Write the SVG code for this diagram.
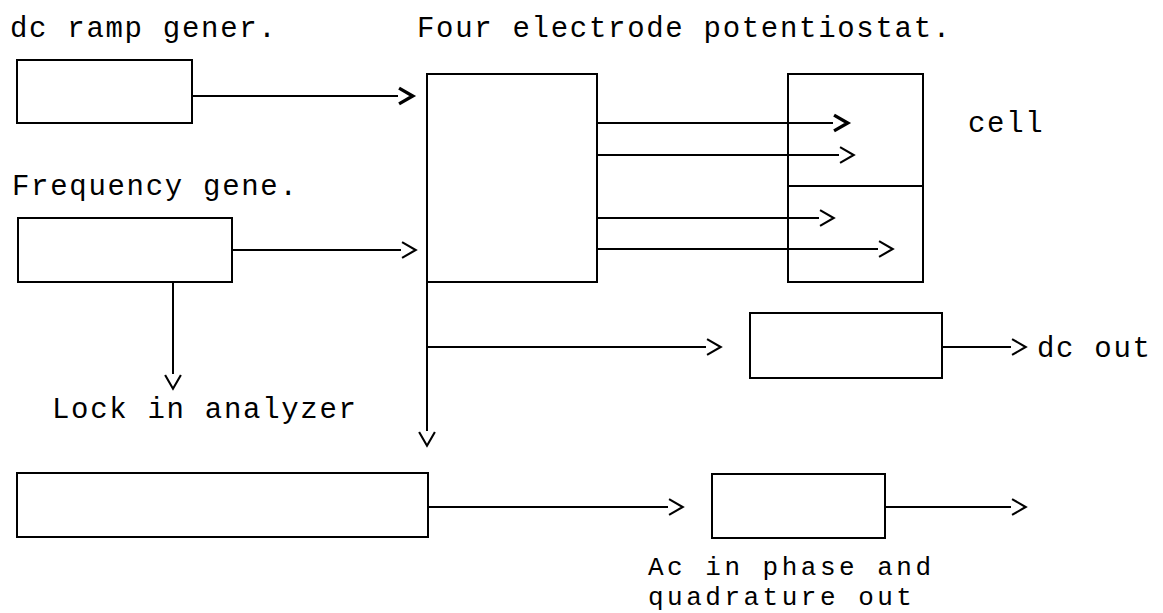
<svg xmlns="http://www.w3.org/2000/svg" width="1163" height="613" viewBox="0 0 1163 613">
<style>
.box{fill:none;stroke:#000;stroke-width:2}
.ln{fill:none;stroke:#000;stroke-width:2;marker-end:url(#chev)}
.lnb{fill:none;stroke:#000;stroke-width:2;marker-end:url(#chevb)}
.t{font-family:"Liberation Mono","Courier New",monospace;font-size:29px;letter-spacing:1.7px;fill:#000}
.ts{font-family:"Liberation Mono","Courier New",monospace;font-size:26px;letter-spacing:3.5px;fill:#000}
</style>
<defs>
<marker id="chev" markerUnits="userSpaceOnUse" markerWidth="20" markerHeight="20" viewBox="-2 -2 18 19" refX="-1" refY="7.5" orient="auto" overflow="visible">
<path d="M0,0 L13,7.5 L0,15" fill="none" stroke="#000" stroke-width="2"/>
</marker>
<marker id="chevb" markerUnits="userSpaceOnUse" markerWidth="20" markerHeight="20" viewBox="-2 -2 18 19" refX="-1" refY="7.5" orient="auto" overflow="visible">
<path d="M0,0 L13,7.5 L0,15" fill="none" stroke="#000" stroke-width="3.2"/>
</marker>
</defs>
<rect width="1163" height="613" fill="#fff"/>
<g id="title-labels">
<text class="t" x="10" y="37">dc ramp gener.</text>
<text class="t" x="417" y="37">Four electrode potentiostat.</text>
</g>
<g id="dc-ramp"><rect class="box" x="17" y="60" width="175" height="63"/></g>
<g id="potentiostat"><rect class="box" x="427" y="74" width="170" height="208"/></g>
<g id="cell">
<rect class="box" x="788" y="74" width="135" height="208"/>
<line class="box" x1="788" y1="186" x2="923" y2="186"/>
<text class="t" x="968" y="132">cell</text>
</g>
<g id="freq-gen">
<text class="t" x="12" y="195">Frequency gene.</text>
<rect class="box" x="18" y="218" width="214" height="64"/>
</g>
<g id="dc-box">
<rect class="box" x="750" y="313" width="192" height="65"/>
<text class="t" x="1037" y="357">dc out</text>
</g>
<g id="lock-in">
<text class="t" x="52" y="418">Lock in analyzer</text>
<rect class="box" x="17" y="473" width="411" height="64"/>
</g>
<g id="ac-box">
<rect class="box" x="712" y="474" width="173" height="64"/>
<text class="ts" x="648" y="575">Ac in phase and</text>
<text class="ts" x="648" y="605">quadrature out</text>
</g>
<g id="connectors">
<line class="lnb" x1="192" y1="96" x2="398" y2="96"/>
<line class="ln" x1="232" y1="250" x2="401" y2="250"/>
<line class="ln" x1="173" y1="282" x2="173" y2="374"/>
<line class="ln" x1="427" y1="282" x2="427" y2="431"/>
<line class="lnb" x1="597" y1="123" x2="833" y2="123"/>
<line class="ln" x1="597" y1="155" x2="839" y2="155"/>
<line class="ln" x1="597" y1="218" x2="819" y2="218"/>
<line class="ln" x1="597" y1="249" x2="878" y2="249"/>
<line class="ln" x1="427" y1="347" x2="706" y2="347"/>
<line class="ln" x1="942" y1="347" x2="1011" y2="347"/>
<line class="ln" x1="428" y1="507" x2="668" y2="507"/>
<line class="ln" x1="885" y1="507" x2="1011" y2="507"/>
</g>
</svg>
